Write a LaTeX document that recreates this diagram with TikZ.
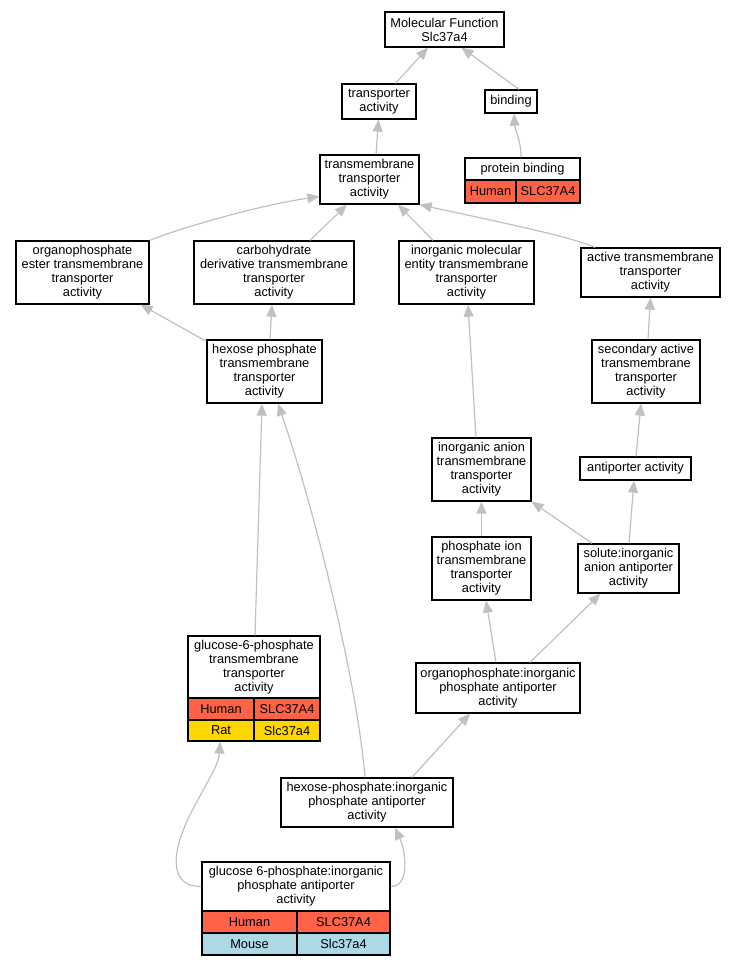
\documentclass[tikz,border=0pt]{standalone}
\usepackage{fontspec}
\setmainfont{Liberation Sans}
\usetikzlibrary{arrows.meta}
\definecolor{tomatoc}{HTML}{FF6347}
\definecolor{goldc}{HTML}{FFD700}
\definecolor{lblue}{HTML}{ADD8E6}
\definecolor{edgec}{HTML}{C0C0C0}
\begin{document}
\begin{tikzpicture}[x=1pt,y=-1pt,
  box/.style={draw=black,line width=1.3pt,fill=white,inner sep=0pt,align=center,
    font=\fontsize{12.8}{14}\selectfont},
  cell/.style={draw=black,line width=1.2pt,inner sep=0pt,align=center,
    font=\fontsize{12.8}{14}\selectfont},
  edge/.style={draw=edgec,line width=1.2pt,-{Triangle[length=12pt,width=10pt]}}]
\useasboundingbox (0,0) rectangle (736,965);
% nodes
\node[box,minimum width=119,minimum height=35] (mf) at (444.5,29.5) {Molecular Function\\Slc37a4};
\node[box,minimum width=74,minimum height=35] (ta) at (379,101.5) {transporter\\activity};
\node[box,minimum width=52,minimum height=23] (bind) at (511,101.5) {binding};
\node[box,minimum width=115,minimum height=22] (pb) at (522.5,169) {protein binding};
\node[cell,fill=tomatoc,minimum width=51,minimum height=23] (pbh) at (490.5,191.5) {Human};
\node[cell,fill=tomatoc,minimum width=64,minimum height=23] (pbs) at (548,191.5) {SLC37A4};
\node[box,minimum width=99,minimum height=49] (tm) at (369.5,179.5) {transmembrane\\transporter\\activity};
\node[box,minimum width=133,minimum height=63] (ope) at (82.5,272.5) {organophosphate\\ester transmembrane\\transporter\\activity};
\node[box,minimum width=160,minimum height=63] (cd) at (274,272.5) {carbohydrate\\derivative transmembrane\\transporter\\activity};
\node[box,minimum width=135,minimum height=63] (ime) at (466.5,272.5) {inorganic molecular\\entity transmembrane\\transporter\\activity};
\node[box,minimum width=139,minimum height=49] (act) at (650.5,272.5) {active transmembrane\\transporter\\activity};
\node[box,minimum width=115,minimum height=63] (hp) at (264.5,371.5) {hexose phosphate\\transmembrane\\transporter\\activity};
\node[box,minimum width=108,minimum height=63] (sat) at (646,371.5) {secondary active\\transmembrane\\transporter\\activity};
\node[box,minimum width=111,minimum height=23] (ap) at (635.5,468.5) {antiporter activity};
\node[box,minimum width=99,minimum height=63] (ia) at (481.5,469.5) {inorganic anion\\transmembrane\\transporter\\activity};
\node[box,minimum width=99,minimum height=63] (pi) at (481.5,568.5) {phosphate ion\\transmembrane\\transporter\\activity};
\node[box,minimum width=101,minimum height=49] (sol) at (628.5,568.5) {solute:inorganic\\anion antiporter\\activity};
\node[box,minimum width=132,minimum height=62] (g6t) at (254,667) {glucose-6-phosphate\\transmembrane\\transporter\\activity};
\node[cell,fill=tomatoc,minimum width=66,minimum height=22] (g6th) at (221,709) {Human};
\node[cell,fill=tomatoc,minimum width=66,minimum height=22] (g6ths) at (287,709) {SLC37A4};
\node[cell,fill=goldc,minimum width=66,minimum height=21] (g6tr) at (221,730.5) {Rat};
\node[cell,fill=goldc,minimum width=66,minimum height=21] (g6trs) at (287,730.5) {Slc37a4};
\node[box,minimum width=164,minimum height=50] (opi) at (498,688) {organophosphate:inorganic\\phosphate antiporter\\activity};
\node[box,minimum width=172,minimum height=49] (hpi) at (367,802.5) {hexose-phosphate:inorganic\\phosphate antiporter\\activity};
\node[box,minimum width=188,minimum height=49] (g6i) at (296,886.5) {glucose 6-phosphate:inorganic\\phosphate antiporter\\activity};
\node[cell,fill=tomatoc,minimum width=95,minimum height=22] (g6ih) at (249.5,922) {Human};
\node[cell,fill=tomatoc,minimum width=93,minimum height=22] (g6is) at (343.5,922) {SLC37A4};
\node[cell,fill=lblue,minimum width=95,minimum height=22] (g6im) at (249.5,944) {Mouse};
\node[cell,fill=lblue,minimum width=93,minimum height=22] (g6ims) at (343.5,944) {Slc37a4};
% edges
\draw[edge] (ta) -- (mf);
\draw[edge] ([xshift=8pt]bind.north) -- ([xshift=17pt]mf.south);
\draw[edge] ([xshift=6.5pt]tm.north) -- ([xshift=-0.5pt]ta.south);
\draw[edge] ([xshift=-1.5pt]pb.north) .. controls (521,140) and (515,130) .. ([xshift=3pt]bind.south);
\draw[edge] (ope.north east) .. controls (180,228) and (260,205) .. ([yshift=8pt]tm.south west);
\draw[edge] ([xshift=36pt]cd.north) -- ([xshift=-22.5pt]tm.south);
\draw[edge] ([xshift=-33.5pt]ime.north) -- ([xshift=28.5pt]tm.south);
\draw[edge] ([xshift=-55.5pt]act.north) .. controls (570,236) and (480,218) .. (tm.south east);
\draw[edge] ([yshift=-2pt]hp.north west) -- ([xshift=-9pt]ope.south east);
\draw[edge] ([xshift=5.5pt]hp.north) -- ([xshift=-2pt]cd.south);
\draw[edge] ([xshift=2pt]sat.north) -- (act.south);
\draw[edge] ([xshift=-5.5pt]ia.north) -- ([xshift=1.5pt]ime.south);
\draw[edge] ([xshift=0.5pt]ap.north) -- ([xshift=-5pt]sat.south);
\draw[edge] (pi) -- (ia);
\draw[edge] ([xshift=-36.5pt]sol.north) -- (ia.south east);
\draw[edge] ([xshift=0.5pt]sol.north) -- ([xshift=-1.5pt]ap.south);
\draw[edge] ([xshift=1pt]g6t.north) -- ([xshift=-2.5pt]hp.south);
\draw[edge] ([xshift=-2pt]opi.north) -- ([xshift=4.5pt]pi.south);
\draw[edge] ([xshift=32pt]opi.north) -- ([xshift=-28pt]sol.south);
\draw[edge] ([xshift=-2pt]hpi.north) .. controls (358,690) and (318,520) .. ([xshift=13.5pt]hp.south);
\draw[edge] ([xshift=45pt]hpi.north) -- ([xshift=-28pt]opi.south);
\draw[edge] (g6i.west) .. controls (170,887) and (170,855) .. (190,815) .. controls (205,785) and (219,765) .. ([xshift=-1pt]g6tr.south);
\draw[edge] (g6i.east) .. controls (410,887) and (406,852) .. ([xshift=28pt]hpi.south);
\end{tikzpicture}
\end{document}
